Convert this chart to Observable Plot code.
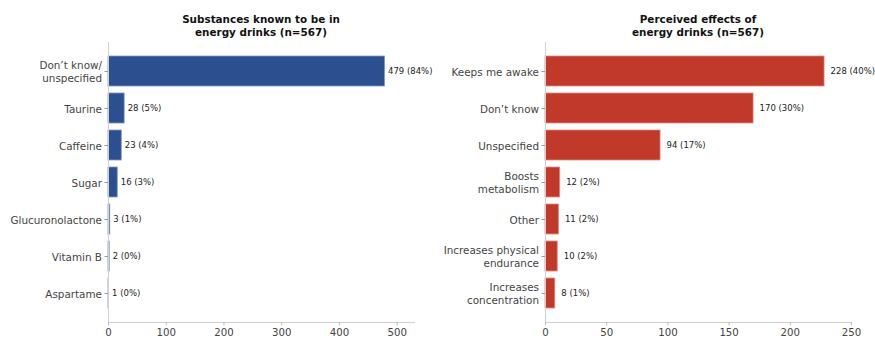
<!DOCTYPE html>
<html>
<head>
<meta charset="utf-8">
<script src="https://cdn.jsdelivr.net/npm/d3@7"></script>
<script src="https://cdn.jsdelivr.net/npm/@observablehq/plot@0.6"></script>
<style>
  html, body { margin: 0; padding: 0; background: #fff; }
  #wrap { display: flex; width: 875px; height: 338px; overflow: hidden; font-family: "DejaVu Sans", sans-serif; }
  .panel { display: flex; flex-direction: column; }
  .title { height: 40px; box-sizing: border-box; padding-top: 13px; font-weight: bold; font-size: 10.4px; line-height: 13px; text-align: center; color: #111; }
  svg { display: block; }
</style>
</head>
<body>
<div id="wrap">
  <div class="panel" id="left"><div class="title" style="padding-left:108px;padding-right:23px">Substances known to be in<br>energy drinks (n=567)</div></div>
  <div class="panel" id="right"><div class="title" style="padding-left:108px;padding-right:24px">Perceived effects of<br>energy drinks (n=567)</div></div>
</div>
<script>
const substanceCategories = ["Don’t know/\nunspecified", "Taurine", "Caffeine", "Sugar", "Glucuronolactone", "Vitamin B", "Aspartame"];
const substanceCounts = [479, 28, 23, 16, 3, 2, 1];
const substancePercents = [84, 5, 4, 3, 1, 0, 0];
const substanceTicks = [0, 100, 200, 300, 400, 500];

const effectCategories = ["Keeps me awake", "Don’t know", "Unspecified", "Boosts\nmetabolism", "Other", "Increases physical\nendurance", "Increases\nconcentration"];
const effectCounts = [228, 170, 94, 12, 11, 10, 8];
const effectPercents = [40, 30, 17, 2, 2, 2, 1];
const effectTicks = [0, 50, 100, 150, 200, 250];

function panel({cats, counts, pcts, ticks, xmax, color, edge, width, marginRight, dx}) {
  const data = cats.map((c, i) => ({cat: c, n: counts[i], label: `${counts[i]} (${pcts[i]}%)`}));
  return Plot.plot({
    width, height: 298,
    marginTop: 2, marginBottom: 16, marginLeft: 108, marginRight,
    style: {fontFamily: "DejaVu Sans, sans-serif", fontSize: "10px", background: "#fff"},
    x: {domain: [0, xmax], ticks, label: null},
    y: {domain: cats, paddingInner: 0.2, paddingOuter: 0.3, label: null},
    marks: [
      Plot.barX(data, {x: "n", y: "cat", fill: color, stroke: edge, strokeWidth: 0.8}),
      Plot.text(data, {x: "n", y: "cat", text: "label", textAnchor: "start", dx, fontSize: 8.5, fill: "#222"}),
      Plot.frame({anchor: "left", stroke: "#d0d0d0"}),
      Plot.frame({anchor: "bottom", stroke: "#d0d0d0"}),
      Plot.axisX({ticks, tickSize: 3.5, tickPadding: 3, stroke: "#bbb", fill: "#444", fontSize: 10.2, label: null}),
      Plot.axisY({tickSize: 3.5, tickPadding: 3, stroke: "#999", fill: "#444", fontSize: 10.4, lineHeight: 1.2, label: null})
    ]
  });
}

document.getElementById("left").appendChild(panel({
  cats: substanceCategories, counts: substanceCounts, pcts: substancePercents, ticks: substanceTicks,
  xmax: 530, color: "#2c4f8f", edge: "#7f97c4", width: 437, marginRight: 23, dx: 3
}));
document.getElementById("right").appendChild(panel({
  cats: effectCategories, counts: effectCounts, pcts: effectPercents, ticks: effectTicks,
  xmax: 250, color: "#c0392b", edge: "#e08a80", width: 438, marginRight: 24, dx: 6
}));
</script>
</body>
</html>
